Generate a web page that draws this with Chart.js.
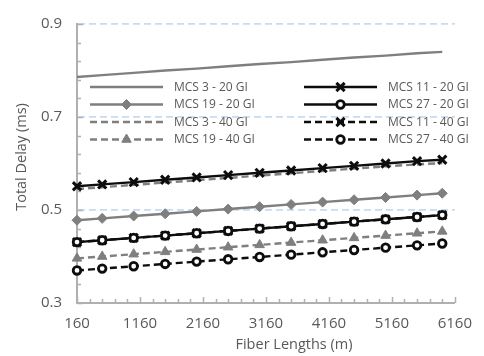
<!DOCTYPE html>
<html>
<head>
<meta charset="utf-8">
<script src="https://cdn.jsdelivr.net/npm/chart.js@4.4.0/dist/chart.umd.min.js"></script>
<style>
  html, body { margin: 0; padding: 0; background: #fff; }
  canvas { display: block; }
</style>
</head>
<body>
<canvas id="chartDelay" width="484" height="356"></canvas>
<script>
// longitudes de fibra (m) y retardos (ms)
const fiberLengths = [160, 560, 1060, 1560, 2060, 2560, 3060, 3560, 4060, 4560, 5060, 5560, 5960];

const mcs3_20  = [0.786, 0.790, 0.795, 0.800, 0.804, 0.809, 0.814, 0.818, 0.823, 0.828, 0.832, 0.837, 0.840];
const mcs11_20 = [0.551, 0.555, 0.560, 0.565, 0.570, 0.575, 0.580, 0.585, 0.590, 0.595, 0.600, 0.605, 0.608];
const mcs19_20 = [0.478, 0.482, 0.487, 0.492, 0.497, 0.502, 0.507, 0.512, 0.517, 0.522, 0.527, 0.532, 0.536];
const mcs27_20 = [0.431, 0.435, 0.440, 0.445, 0.450, 0.455, 0.460, 0.465, 0.470, 0.475, 0.480, 0.485, 0.489];
const mcs3_40  = [0.545, 0.549, 0.554, 0.559, 0.564, 0.569, 0.574, 0.579, 0.584, 0.589, 0.594, 0.598, 0.601];
const mcs11_40 = [0.431, 0.435, 0.440, 0.445, 0.450, 0.455, 0.460, 0.465, 0.470, 0.475, 0.480, 0.485, 0.489];
const mcs19_40 = [0.396, 0.400, 0.405, 0.410, 0.415, 0.420, 0.425, 0.430, 0.435, 0.440, 0.445, 0.450, 0.454];
const mcs27_40 = [0.370, 0.374, 0.379, 0.384, 0.389, 0.394, 0.399, 0.404, 0.409, 0.414, 0.419, 0.424, 0.428];

const xTickLabels = [160, 1160, 2160, 3160, 4160, 5160, 6160];
const yTickLabels = [0.3, 0.5, 0.7, 0.9];

const gris = '#7f7f7f';
const negro = '#0d0d0d';
const textoGris = '#595959';
const ejeGris = '#b0b0b0';
const fuente = '"Open Sans", "Liberation Sans", sans-serif';

const toPoints = vals => vals.map((v, i) => ({ x: fiberLengths[i], y: v }));

const series = [
    { label: 'MCS 3 - 20 GI',  data: mcs3_20,  color: gris,  dash: [],     style: false,      radius: 0 },
    { label: 'MCS 11 - 20 GI', data: mcs11_20, color: negro, dash: [],     style: 'crossRot', radius: 5.8 },
    { label: 'MCS 19 - 20 GI', data: mcs19_20, color: gris,  dash: [],     style: 'rectRot',  radius: 5 },
    { label: 'MCS 27 - 20 GI', data: mcs27_20, color: negro, dash: [],     style: 'circle',   radius: 3.8 },
    { label: 'MCS 3 - 40 GI',  data: mcs3_40,  color: gris,  dash: [7, 4], style: false,      radius: 0 },
    { label: 'MCS 11 - 40 GI', data: mcs11_40, color: negro, dash: [7, 4], style: 'crossRot', radius: 5.8 },
    { label: 'MCS 19 - 40 GI', data: mcs19_40, color: gris,  dash: [7, 4], style: 'triangle', radius: 5.5 },
    { label: 'MCS 27 - 40 GI', data: mcs27_40, color: negro, dash: [7, 4], style: 'circle',   radius: 3.8 }
];

const datasets = series.map(s => ({
    label: s.label,
    data: toPoints(s.data),
    borderColor: s.color,
    borderWidth: 2.4,
    borderDash: s.dash,
    tension: 0,
    clip: false,
    pointStyle: s.style,
    pointRadius: s.radius,
    pointHoverRadius: s.radius,
    pointBorderWidth: s.style === 'circle' ? 2.8 : (s.style === 'crossRot' ? 3 : 1),
    pointBorderColor: s.color,
    pointBackgroundColor: s.style === 'circle' ? '#ffffff' : s.color
}));

const esMayorY = v => yTickLabels.some(t => Math.abs(t - v) < 1e-6);
const esMayorX = v => xTickLabels.includes(v);

// marcas menores hacia dentro del area
const marcas = {
    id: 'marcas',
    beforeDatasetsDraw(chart) {
        const { ctx, chartArea: a, scales: { x, y } } = chart;
        ctx.save();
        ctx.strokeStyle = ejeGris;
        ctx.lineWidth = 1.5;
        ctx.beginPath();
        x.ticks.forEach(t => {
            const px = Math.round(x.getPixelForValue(t.value)) + 0.5;
            const len = esMayorX(t.value) ? 6 : 4;
            ctx.moveTo(px, a.bottom);
            ctx.lineTo(px, a.bottom - len);
        });
        y.ticks.forEach(t => {
            const py = Math.round(y.getPixelForValue(t.value)) + 0.5;
            const len = esMayorY(t.value) ? 6 : 4;
            ctx.moveTo(a.left, py);
            ctx.lineTo(a.left + len, py);
        });
        ctx.stroke();
        ctx.restore();
    }
};

// leyenda en dos columnas dentro del area
const leyenda = {
    id: 'leyenda',
    afterDraw(chart) {
        const ctx = chart.ctx;
        const cols = [90, 304];
        const rows = [87, 104.5, 122, 139.5];
        const largo = 73;
        chart.data.datasets.forEach((ds, i) => {
            const x0 = cols[i % 2];
            const y = rows[Math.floor(i / 2)];
            ctx.save();
            ctx.strokeStyle = ds.borderColor;
            ctx.lineWidth = ds.borderWidth;
            ctx.setLineDash(ds.borderDash);
            ctx.beginPath();
            ctx.moveTo(x0, y);
            ctx.lineTo(x0 + largo, y);
            ctx.stroke();
            ctx.setLineDash([]);
            if (ds.pointStyle) {
                ctx.fillStyle = ds.pointBackgroundColor;
                ctx.strokeStyle = ds.pointBorderColor;
                ctx.lineWidth = ds.pointBorderWidth;
                Chart.helpers.drawPoint(ctx, {
                    pointStyle: ds.pointStyle,
                    radius: ds.pointRadius,
                    rotation: 0,
                    borderWidth: ds.pointBorderWidth
                }, x0 + largo / 2, y);
            }
            ctx.fillStyle = textoGris;
            ctx.font = '12px ' + fuente;
            ctx.textBaseline = 'middle';
            ctx.fillText(ds.label, x0 + largo + 11, y + 0.5);
            ctx.restore();
        });

        // titulos de ejes
        ctx.save();
        ctx.fillStyle = textoGris;
        ctx.font = '14.5px ' + fuente;
        ctx.textAlign = 'center';
        ctx.textBaseline = 'middle';
        ctx.fillText('Fiber Lengths (m)', 294, 345);
        ctx.translate(22, 157);
        ctx.rotate(-Math.PI / 2);
        ctx.fillText('Total Delay (ms)', 0, 0);
        ctx.restore();
    }
};

const canvas = document.getElementById('chartDelay');
const ctx = canvas.getContext('2d');

const chartDelay = new Chart(ctx, {
    type: 'line',
    data: { datasets: datasets },
    options: {
        responsive: false,
        animation: false,
        devicePixelRatio: 1,
        layout: { padding: { top: 14, right: 22, left: 0, bottom: 0 } },
        plugins: {
            legend: { display: false },
            tooltip: { enabled: false }
        },
        scales: {
            x: {
                type: 'linear',
                min: 160,
                max: 6160,
                afterFit: scale => { scale.height = 53; },
                afterBuildTicks: scale => {
                    const ticks = [];
                    for (let v = 160; v <= 6160; v += 200) ticks.push({ value: v });
                    scale.ticks = ticks;
                },
                ticks: {
                    autoSkip: false,
                    maxRotation: 0,
                    padding: 12,
                    color: textoGris,
                    font: { family: fuente, size: 15 },
                    callback: v => esMayorX(v) ? String(v) : ''
                },
                grid: { drawOnChartArea: false, drawTicks: false },
                border: { color: ejeGris, width: 2 }
            },
            y: {
                min: 0.3,
                max: 0.9,
                afterFit: scale => { scale.width = 77; },
                afterBuildTicks: scale => {
                    const ticks = [];
                    for (let k = 0; k <= 15; k++) ticks.push({ value: Math.round((0.3 + k * 0.04) * 100) / 100 });
                    scale.ticks = ticks;
                },
                ticks: {
                    autoSkip: false,
                    padding: 15,
                    color: textoGris,
                    font: { family: fuente, size: 15 },
                    callback: v => esMayorY(v) ? v.toFixed(1) : ''
                },
                grid: {
                    drawTicks: false,
                    lineWidth: 1.8,
                    color: c => (c.tick && esMayorY(c.tick.value) && c.tick.value > 0.31) ? '#c8dbf0' : 'rgba(0,0,0,0)'
                },
                border: { color: ejeGris, width: 2, dash: [7, 4] }
            }
        }
    },
    plugins: [marcas, leyenda]
});
</script>
</body>
</html>
